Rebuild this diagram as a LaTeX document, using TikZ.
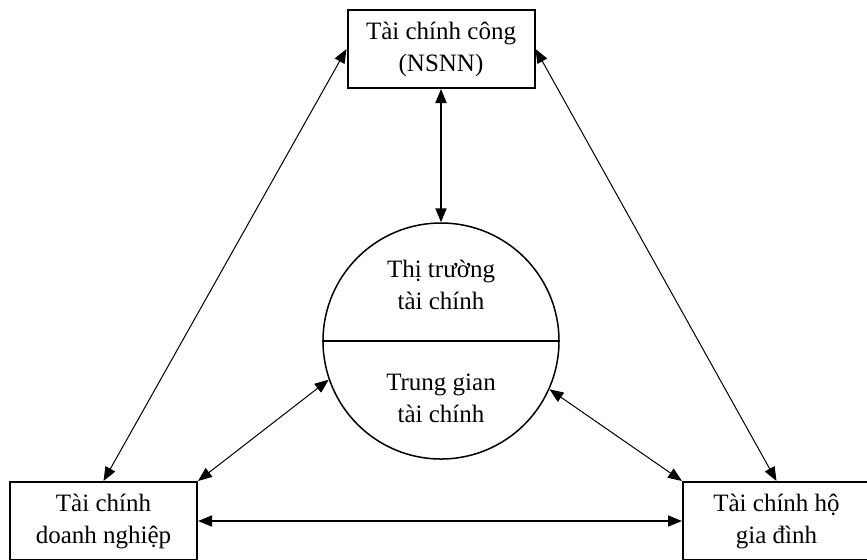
\documentclass[tikz,border=0pt]{standalone}
\usepackage{fontspec}
\setmainfont{Liberation Serif}
\usetikzlibrary{positioning, arrows.meta, calc}

\begin{document}
\begin{tikzpicture}[x=0.5pt, y=-0.5pt, <->, >={Triangle[length=7pt, width=5.5pt]},
            font=\fontsize{12.5}{16}\selectfont,
            every box/.style={draw, line width=1pt, align=center,
            minimum width=93.5pt, minimum height=39pt, inner sep=0pt},
            link/.style={line width=0.5pt}]
          \useasboundingbox (0,0) rectangle (867,559);
          \node[every box] (cong) at (441,49) {Tài chính công\\(NSNN)};
          \node[every box] (dn) at (103.5,521) {Tài chính\\doanh nghiệp};
          \node[every box] (hgd) at (776.5,521) {Tài chính hộ\\gia đình};
          \node[circle, draw, line width=0.75pt, minimum size=118pt, inner sep=0pt] (tt) at (441,341) {};
          \draw[-, line width=0.75pt] (tt.west) -- (tt.east);
          \node[align=center] (ttc) at (441,285) {Thị trường\\tài chính};
          \node[align=center] (tgtc) at (441,398) {Trung gian\\tài chính};
          \path (cong.south) edge[line width=1pt] (tt.north)
                (cong.west) edge[link] (dn.north)
                (cong.east) edge[link] (hgd.north)
                (tt.199) edge[link] (dn.north east)
                (tt.336) edge[link] (hgd.north west)
                (dn) edge[line width=0.8pt] (hgd);
        \end{tikzpicture}
\end{document}
